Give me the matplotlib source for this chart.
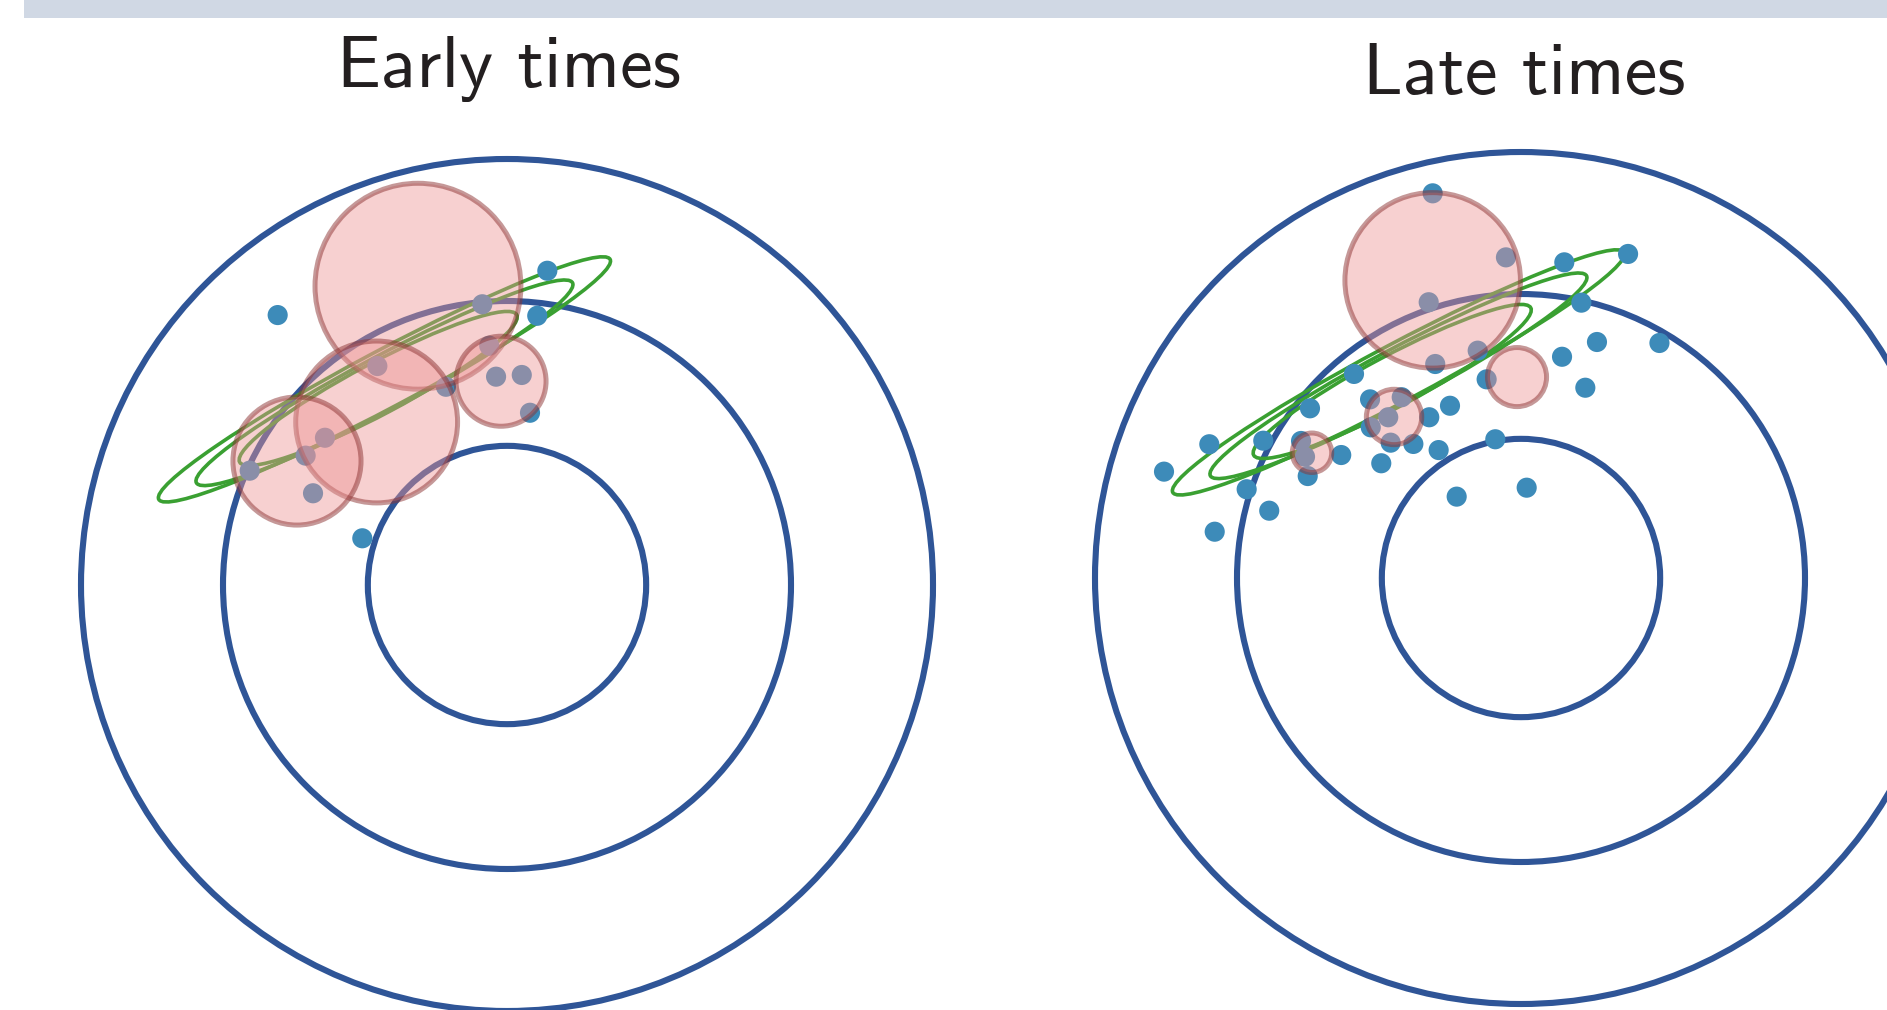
import numpy as np
import matplotlib.pyplot as plt
from matplotlib.patches import Circle, Ellipse, Rectangle

# figure size in pixels
W, H = 1887, 1010
UNIT = 142.0      # pixels per data unit
R = 3.3           # half extent of each panel in data units

titles = ['Early times', 'Late times']
panel_centers = [(507, 585), (1521, 578)]   # pixel position of ring centre
title_pos = [(509, 87), (1524, 94)]         # pixel position of title baseline

ring_radii = [0.98, 2.0, 3.0]

# posterior ellipses (same in both panels): centre x, centre y, half length, half width
ell_x = [-0.863, -0.863, -0.907]
ell_y = [1.448, 1.424, 1.384]
ell_a = [1.80, 1.50, 1.105]
ell_b = [0.20, 0.19, 0.18]
ell_angle = 28.0

# early times: data points and local fits
early_x = [-1.615, 0.284, 0.213, -0.174, -0.125, -0.913, -0.430, -0.077,
           0.104, 0.162, -1.282, -1.418, -1.812, -1.366, -1.019]
early_y = [1.901, 2.213, 1.896, 1.977, 1.685, 1.542, 1.396, 1.467,
           1.479, 1.213, 1.037, 0.911, 0.805, 0.646, 0.329]
early_cx = [-0.627, -0.918, -1.479, -0.042]
early_cy = [2.104, 1.148, 0.873, 1.435]
early_r = [0.725, 0.570, 0.451, 0.317]

# late times
late_x = [-0.622, -0.106, 0.305, -0.650, 0.425, -0.305, -0.604, 0.289,
          -0.242, 0.453, -1.176, -1.486, -1.063, -0.840, -0.935, -0.646,
          -0.500, -1.058, -0.918, -0.758, -0.580, -0.181, -2.195, -1.815,
          -1.549, -1.521, -1.266, -1.502, -0.984, -2.514, -1.932, -1.773,
          -2.157, -0.453, 0.040, 0.754, 0.535, 0.975]
late_y = [2.709, 2.258, 2.223, 1.942, 1.939, 1.601, 1.507, 1.558,
          1.399, 1.340, 1.437, 1.195, 1.258, 1.273, 1.132, 1.132,
          1.213, 1.061, 0.953, 0.944, 0.901, 0.977, 0.942, 0.967,
          0.965, 0.854, 0.866, 0.718, 0.808, 0.749, 0.625, 0.474,
          0.326, 0.573, 0.636, 2.282, 1.662, 1.655]
late_cx = [-0.622, -0.028, -0.894, -1.472]
late_cy = [2.096, 1.415, 1.134, 0.882]
late_r = [0.618, 0.208, 0.195, 0.139]

points_x = [early_x, late_x]
points_y = [early_y, late_y]
blob_x = [early_cx, late_cx]
blob_y = [early_cy, late_cy]
blob_r = [early_r, late_r]

ring_color = '#2f5597'
dot_color = '#3d8bb9'
green = '#3aa032'

fig = plt.figure(figsize=(W / 100, H / 100), dpi=100)

# grey banner along the top
fig.patches.append(Rectangle((24 / W, 1 - 17.5 / H), 1 - 24 / W, 17.5 / H,
                             transform=fig.transFigure, facecolor='#d0d8e4',
                             edgecolor='none'))

for k in range(2):
    cx, cy = panel_centers[k]
    half = R * UNIT
    ax = fig.add_axes([(cx - half) / W, (H - cy - half) / H, 2 * half / W, 2 * half / H])
    ax.set_xlim(-R, R)
    ax.set_ylim(-R, R)
    ax.axis('off')

    for r in ring_radii:
        ax.add_patch(Circle((0, 0), r, fill=False, edgecolor=ring_color, lw=4.4, zorder=1))

    for i in range(len(ell_x)):
        ax.add_patch(Ellipse((ell_x[i], ell_y[i]), 2 * ell_a[i], 2 * ell_b[i],
                             angle=ell_angle, fill=False, edgecolor=green, lw=2.6, zorder=2))

    ax.scatter(points_x[k], points_y[k], s=210, color=dot_color, edgecolors='none', zorder=3)

    for i in range(len(blob_r[k])):
        ax.add_patch(Circle((blob_x[k][i], blob_y[k][i]), blob_r[k][i],
                            facecolor=(0.93, 0.58, 0.58, 0.44),
                            edgecolor=(0.55, 0.2, 0.2, 0.5), lw=3.6, zorder=4))

    tx, ty = title_pos[k]
    fig.text(tx / W, 1 - ty / H, titles[k], ha='center', va='baseline',
             fontsize=53, family='cmss10', color='#231f20')

fig.savefig('out.png', dpi=100)
